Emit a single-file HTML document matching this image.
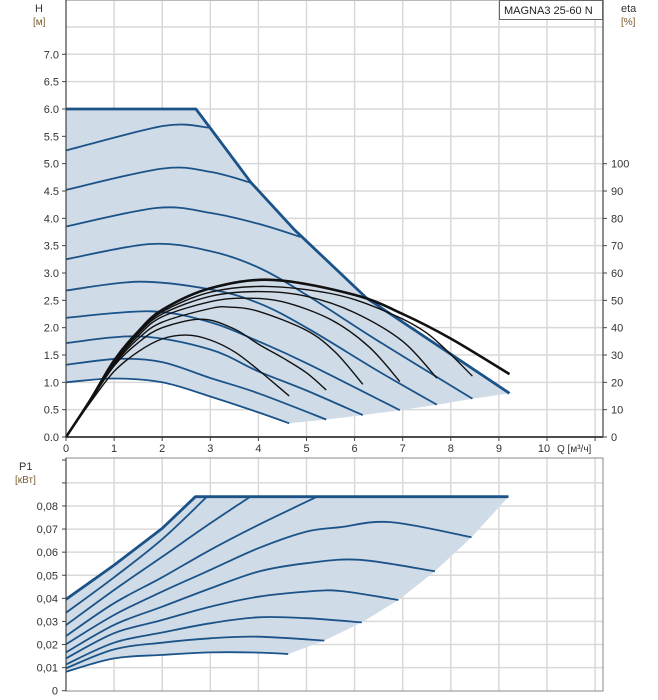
<!DOCTYPE html>
<html><head><meta charset="utf-8"><style>
html,body{margin:0;padding:0;background:#fff;}
svg{display:block;font-family:"Liberation Sans",sans-serif;}
</style></head><body>
<svg id="c" width="658" height="700" viewBox="0 0 658 700" xmlns="http://www.w3.org/2000/svg">
<g id="grid"></g>
<g id="fills"></g>
<g id="lines"></g>
<g id="axes"></g>
<rect x="499.5" y="0.5" width="103" height="19" fill="#fff" stroke="#666"/>
<text x="504" y="14" font-size="11" fill="#222">MAGNA3 25-60 N</text>
<text x="35" y="12" font-size="11" fill="#333">H</text>
<text x="33" y="25" font-size="10" fill="#7a5a2a">[м]</text>
<text x="621" y="12" font-size="11" fill="#333">eta</text>
<text x="621" y="25" font-size="10" fill="#7a5a2a">[%]</text>
<text x="19" y="470" font-size="11" fill="#333">P1</text>
<text x="15" y="483" font-size="10" fill="#7a5a2a">[кВт]</text>
<text x="557" y="452" font-size="10" fill="#333">Q [м³/ч]</text>
</svg>
<script>
// ---- data ----
const qTicks = [0,1,2,3,4,5,6,7,8,9,10];
const hTicks = [0,0.5,1,1.5,2,2.5,3,3.5,4,4.5,5,5.5,6,6.5,7];
const etaTicks = [0,10,20,30,40,50,60,70,80,90,100];
const pTicks = [0,0.01,0.02,0.03,0.04,0.05,0.06,0.07,0.08];
const pTickLabels = ["0","0,01","0,02","0,03","0,04","0,05","0,06","0,07","0,08"];

const hMaxQ = [0,2.7,3.0,3.85,4.75,6.25,9.22];
const hMaxH = [6.0,6.0,5.65,4.65,3.79,2.54,0.8];

const hSpeedQ = [
 [0,1.0,2,3,4,4.64],
 [0,1.08,2,3,4,5.41],
 [0,1.53,3,4,5,6.17],
 [0,1.76,3,4,5,6.94],
 [0,1.53,3,4,5,6.5,7.71],
 [0,1.76,3,4,5,6.5,8.45],
 [0,1.9,3,4,4.87],
 [0,2.0,3,3.85],
 [0,2.03,2.97]
];
const hSpeedH = [
 [1.0,1.07,1.0,0.74,0.45,0.25],
 [1.32,1.43,1.37,1.08,0.8,0.32],
 [1.72,1.84,1.6,1.2,0.85,0.40],
 [2.18,2.3,2.1,1.75,1.35,0.49],
 [2.68,2.84,2.7,2.45,2.0,1.2,0.59],
 [3.25,3.53,3.4,3.1,2.6,1.75,0.70],
 [3.85,4.19,4.1,3.9,3.66],
 [4.52,4.91,4.85,4.65],
 [5.24,5.69,5.66]
];

const etaQ = [
 [0,0.5,1,1.5,2,2.51,3,3.5,4,4.64],
 [0,0.5,1,1.5,2,2.83,3.5,4,4.5,5,5.41],
 [0,0.5,1,1.5,2,3,3.41,4,5,5.6,6.17],
 [0,0.5,1,1.5,2,3,3.7,4.5,5.5,6.3,6.94],
 [0,0.5,1,1.5,2,3,4,5,6,7,7.71],
 [0,0.5,1,1.5,2,3,4.15,5.5,6.5,7.5,8.45],
 [0,0.5,1,1.5,2,3,4.3,6,7,8,9.22]
];
const etaVal = [
 [0,12.5,24,31.2,35.9,37.3,35.5,31.2,24.5,15],
 [0,13,26,34.5,40,43.1,39.5,34,29,23.5,17.2],
 [0,13.2,26.5,36,42,47,47.5,46,39,31,19.3],
 [0,13.3,27,37,44,49.5,50.8,49.5,43,33,20.3],
 [0,13.4,27.5,37.8,45,51.5,53.2,51.5,45.5,35,21.5],
 [0,13.4,27.8,38.2,45.8,53,55.1,52.5,47,38,22.3],
 [0,13.4,28,38.6,46.5,54.4,57.5,52,45,36,23]
];

const pMaxQ = [0,1,2,2.69,9.2];
const pMaxP = [0.0396,0.0544,0.0703,0.084,0.084];
const pSpeedQ = [
 [0,1,2,2.93],
 [0,1,2,3,3.83],
 [0,1,2,3,4,5.22],
 [0,1,2,3,4,5,5.7,6.75,8.43],
 [0,1,2,3,4,5,6.1,7.67],
 [0,1,2,3,4,5,5.7,6.91],
 [0,1,2,3,4,5,6.15],
 [0,1,2,3,4,5.37],
 [0,1,2,3,4,4.62]
];
const pSpeedP = [
 [0.0338,0.0491,0.0656,0.084],
 [0.0284,0.0436,0.058,0.0725,0.084],
 [0.0237,0.0379,0.0491,0.061,0.0718,0.084],
 [0.0201,0.0328,0.0429,0.0523,0.0617,0.0689,0.0708,0.073,0.0665],
 [0.0166,0.0285,0.0364,0.0443,0.0516,0.0552,0.0567,0.0517],
 [0.014,0.0249,0.0306,0.0364,0.0407,0.0429,0.0432,0.0393],
 [0.0114,0.0208,0.0252,0.0292,0.0318,0.0314,0.0296],
 [0.0097,0.0179,0.0208,0.0227,0.0234,0.0217],
 [0.0082,0.014,0.0155,0.0166,0.0165,0.0159]
];

// ---- scales ----
const X0=66, XR=603;
const xQ = q => X0 + q*48.1;
const yH = h => 437 - h*54.67;
const yEta = e => 437 - e*2.733;
const yP = p => 690.7 - p*2309;

const NS="http://www.w3.org/2000/svg";
function mk(tag, parent, attrs){
  const el=document.createElementNS(NS,tag);
  for(const k in attrs) el.setAttribute(k,attrs[k]);
  parent.appendChild(el); return el;
}
function pts(qs,vs,fx,fy){ return qs.map((q,i)=>[fx(q),fy(vs[i])]); }
function smooth(p, move){
  let d = (move?"M":"L")+p[0][0].toFixed(1)+","+p[0][1].toFixed(1);
  for(let i=0;i<p.length-1;i++){
    const p0=p[i-1]||p[i], p1=p[i], p2=p[i+1], p3=p[i+2]||p[i+1];
    const c1=[p1[0]+(p2[0]-p0[0])/6, p1[1]+(p2[1]-p0[1])/6];
    const c2=[p2[0]-(p3[0]-p1[0])/6, p2[1]-(p3[1]-p1[1])/6];
    d+="C"+c1[0].toFixed(1)+","+c1[1].toFixed(1)+" "+c2[0].toFixed(1)+","+c2[1].toFixed(1)+" "+p2[0].toFixed(1)+","+p2[1].toFixed(1);
  }
  return d;
}
function poly(p, move){ return p.map((a,i)=>((i||!move)?"L":"M")+a[0].toFixed(1)+","+a[1].toFixed(1)).join(""); }

const grid=document.getElementById('grid'), fills=document.getElementById('fills'),
      lines=document.getElementById('lines'), axes=document.getElementById('axes');
const GC="#d9d9d9";

// ---- grid top ----
for(let q=1;q<=11;q++){
  const l=mk('line',grid,{x1:xQ(q),x2:xQ(q),y1:0,y2:437,stroke:GC,'stroke-width':1.5});
  
  
}
for(let h=0.5;h<=7.5;h+=0.5){
  const l=mk('line',grid,{x1:X0,x2:XR,y1:yH(h),y2:yH(h),stroke:GC,'stroke-width':1.5});
  
  
}
mk('line',grid,{x1:X0,x2:XR,y1:0.5,y2:0.5,stroke:"#bbb"});
// ---- grid bottom ----
for(let q=1;q<=11;q++){
  const l=mk('line',grid,{x1:xQ(q),x2:xQ(q),y1:458,y2:691,stroke:GC,'stroke-width':1.5});
  
  
}
for(let i=1;i<=9;i++){
  const l=mk('line',grid,{x1:X0,x2:XR,y1:yP(i*0.01),y2:yP(i*0.01),stroke:GC,'stroke-width':1.5});
  
  
}
const frame=mk('rect',grid,{x:X0,y:458,width:XR-X0,height:233,fill:"none",stroke:"#888"});



// ---- top fill ----
const FILL="#cfdbe7", BLUE="#1b5388";
{
  const maxP=pts(hMaxQ,hMaxH,xQ,yH);
  const ends=hSpeedQ.slice(0,6).map((qs,i)=>[xQ(qs[qs.length-1]),yH(hSpeedH[i][hSpeedH[i].length-1])]).reverse();
  const s1=pts(hSpeedQ[0],hSpeedH[0],xQ,yH).reverse();
  let d=poly(maxP,true)+poly(ends,false)+smooth(s1,false)+"Z";
  const f=mk('path',fills,{d:d,fill:FILL});
  
  
}
// ---- bottom fill ----
{
  const maxP=pts(pMaxQ,pMaxP,xQ,yP);
  const ends=pSpeedQ.slice(3).map((qs,i)=>[xQ(qs[qs.length-1]),yP(pSpeedP[i+3][pSpeedP[i+3].length-1])]);
  const last=pts(pSpeedQ[8],pSpeedP[8],xQ,yP).reverse();
  let d=poly(maxP,true)+poly(ends,false)+smooth(last,false)+"Z";
  const f=mk('path',fills,{d:d,fill:FILL});
  
  
}

// ---- top speed curves ----
hSpeedQ.forEach((qs,i)=>{
  const p=mk('path',lines,{d:smooth(pts(qs,hSpeedH[i],xQ,yH),true),fill:"none",stroke:BLUE,'stroke-width':1.8});
  
  
});
{
  const p=mk('path',lines,{d:poly(pts(hMaxQ,hMaxH,xQ,yH),true),fill:"none",stroke:BLUE,'stroke-width':2.8,'stroke-linejoin':'round'});
  
  
}
// ---- eta curves ----
etaQ.forEach((qs,i)=>{
  const p=mk('path',lines,{d:smooth(pts(qs,etaVal[i],xQ,yEta),true),fill:"none",stroke:"#111",'stroke-width':i==6?2.6:1.4});
  
  
});
// ---- power curves ----
pSpeedQ.forEach((qs,i)=>{
  const p=mk('path',lines,{d:smooth(pts(qs,pSpeedP[i],xQ,yP),true),fill:"none",stroke:BLUE,'stroke-width':1.8});
  
  
});
{
  const p=mk('path',lines,{d:poly(pts(pMaxQ,pMaxP,xQ,yP),true),fill:"none",stroke:BLUE,'stroke-width':2.8,'stroke-linejoin':'round'});
  
  
}

// ---- axes ----
const AX="#444";
mk('line',axes,{x1:X0,x2:X0,y1:0,y2:437,stroke:AX,'stroke-width':1.2});
mk('line',axes,{x1:X0,x2:XR,y1:437,y2:437,stroke:"#111",'stroke-width':1.5});
mk('line',axes,{x1:XR,x2:XR,y1:0,y2:437,stroke:AX,'stroke-width':1.2});
mk('line',axes,{x1:X0,x2:X0,y1:458,y2:691,stroke:AX,'stroke-width':1.2});
hTicks.forEach(h=>{
  mk('line',axes,{x1:X0-4,x2:X0,y1:yH(h),y2:yH(h),stroke:AX});
  const t=mk('text',axes,{x:X0-7,y:yH(h)+4,'font-size':11,fill:"#333",'text-anchor':'end'});
  t.textContent=h.toFixed(1);
  
  
});
etaTicks.forEach(e=>{
  mk('line',axes,{x1:XR,x2:XR+4,y1:yEta(e),y2:yEta(e),stroke:AX});
  const t=mk('text',axes,{x:XR+8,y:yEta(e)+4,'font-size':11,fill:"#333"});
  t.textContent=e;
  
  
});
qTicks.forEach(q=>{
  mk('line',axes,{x1:xQ(q),x2:xQ(q),y1:437,y2:441,stroke:AX});
  const t=mk('text',axes,{x:xQ(q)+(q==10?-3:0),y:452,'font-size':11,fill:"#333",'text-anchor':'middle'});
  t.textContent=q;
  
  
});
mk('line',axes,{x1:xQ(11),x2:xQ(11),y1:437,y2:441,stroke:AX});
pTicks.forEach((p,i)=>{
  mk('line',axes,{x1:X0-4,x2:X0,y1:yP(p),y2:yP(p),stroke:AX});
  const t=mk('text',axes,{x:X0-8,y:yP(p)+4,'font-size':11,fill:"#333",'text-anchor':'end'});
  t.textContent=pTickLabels[i];
  
  
});
mk('line',axes,{x1:X0-4,x2:X0,y1:yP(0.09),y2:yP(0.09),stroke:AX});
mk('line',axes,{x1:X0-4,x2:X0,y1:460,y2:460,stroke:AX});
</script>
</body></html>
